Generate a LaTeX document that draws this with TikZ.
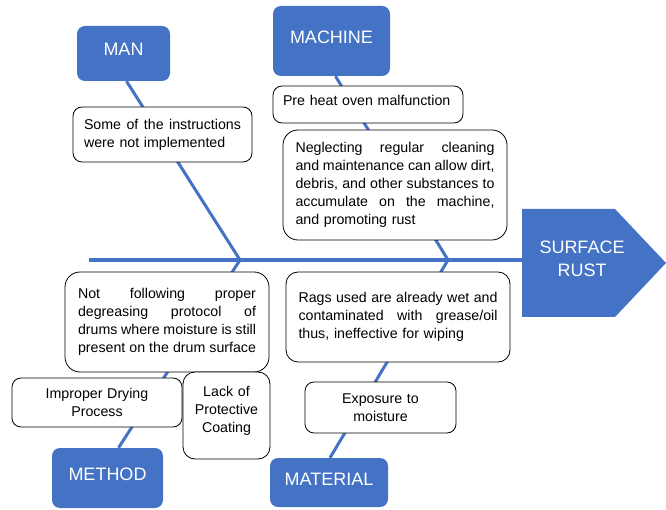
\documentclass[tikz,border=0pt]{standalone}
\usepackage{fontspec}
\setmainfont{Liberation Sans}
\definecolor{fbblue}{HTML}{4472C4}
\newcommand\jline[2]{\makebox[#1][s]{\spaceskip=0pt\xspaceskip=0pt\relax #2}}
\tikzset{
  hdr/.style={fill=fbblue, rounded corners=8pt, text=white, inner sep=0pt,
    font=\fontsize{18}{22}\selectfont, text height=13pt, text depth=8pt},
  cbox/.style={draw=black, fill=white, rounded corners=9pt, line width=0.8pt,
    font=\fontsize{14.2}{18}\selectfont, inner ysep=0pt},
  bone/.style={draw=fbblue, line width=3.5pt},
  branch/.style={draw=fbblue, line width=3pt}
}
\begin{document}
\begin{tikzpicture}[x=1pt,y=-1pt]
\useasboundingbox (0,0) rectangle (666,510);
% junctions
\coordinate (j1) at (240,260);
\coordinate (j2) at (448,260);
\coordinate (tail) at (89,260);
% head
\fill[fbblue] (522,209) -- (615,209) -- (666,263) -- (615,317) -- (522,317) -- cycle;
\coordinate (headw) at (522,260);
\node[text=white, font=\fontsize{18}{23}\selectfont, align=center, inner sep=0pt] (effect) at (582,259) {SURFACE\\RUST};
% category boxes
\node[hdr, minimum width=93pt, minimum height=55pt] (man) at (123.5,53.5) {MAN};
\node[hdr, minimum width=117pt, minimum height=70pt] (machine) at (331.5,41) {MACHINE};
\node[hdr, minimum width=111pt, minimum height=60pt] (method) at (107.5,478) {METHOD};
\node[hdr, minimum width=118pt, minimum height=49pt] (material) at (329,482.5) {MATERIAL};
% bones
\draw[bone] (tail) -- (headw);
\draw[branch] ([xshift=3pt]man.south) -- (j1);
\draw[branch] ([xshift=4pt]machine.south) -- (j2);
\draw[branch] ([xshift=11pt]method.north) -- (j1);
\draw[branch] ([xshift=1pt]material.north) -- (j2);
% cause boxes
\node[cbox, text width=157pt, inner xsep=11pt, minimum height=55pt, align=left] (c1) at (162.5,134.5)
  {\jline{157pt}{Some of the instructions}\\were not implemented};
\node[cbox, text width=170pt, inner xsep=10pt, minimum height=37pt, align=left, text depth=8pt] (c2) at (368,104.5)
  {Pre heat oven malfunction};
\node[cbox, rounded corners=15pt, text width=199pt, inner xsep=12.5pt, minimum height=110pt, align=left] (c3) at (395,185)
  {\jline{199pt}{Neglecting regular cleaning}\\
   \jline{199pt}{and maintenance can allow dirt,}\\
   \jline{199pt}{debris, and other substances to}\\
   \jline{199pt}{accumulate on the machine,}\\
   and promoting rust};
\node[cbox, rounded corners=15pt, text width=178pt, inner xsep=13pt, minimum height=100pt, align=left] (c4) at (167,322)
  {\jline{178pt}{Not following proper}\\
   \jline{178pt}{degreasing protocol of}\\
   \jline{178pt}{drums where moisture is still}\\
   \jline{178pt}{present on the drum surface}};
\node[cbox, rounded corners=12pt, text width=199pt, inner xsep=12.5pt, minimum height=90pt, align=left] (c5) at (398,317)
  {\jline{199pt}{Rags used are already wet and}\\
   \jline{199pt}{contaminated with grease/oil}\\
   thus, ineffective for wiping};
\node[cbox, text width=150pt, inner xsep=10pt, minimum height=49pt, align=center] (c6) at (97,402.5)
  {Improper Drying\\Process};
\node[cbox, rounded corners=12pt, text width=80pt, inner xsep=3.5pt, minimum height=87pt, align=center] (c7) at (226.5,415.5)
  {Lack of\\Protective\\Coating\\[-6pt]\mbox{}};
\node[cbox, text width=131pt, inner xsep=10pt, minimum height=51pt, align=center] (c8) at (380.5,407.5)
  {Exposure to\\moisture};
\end{tikzpicture}
\end{document}
